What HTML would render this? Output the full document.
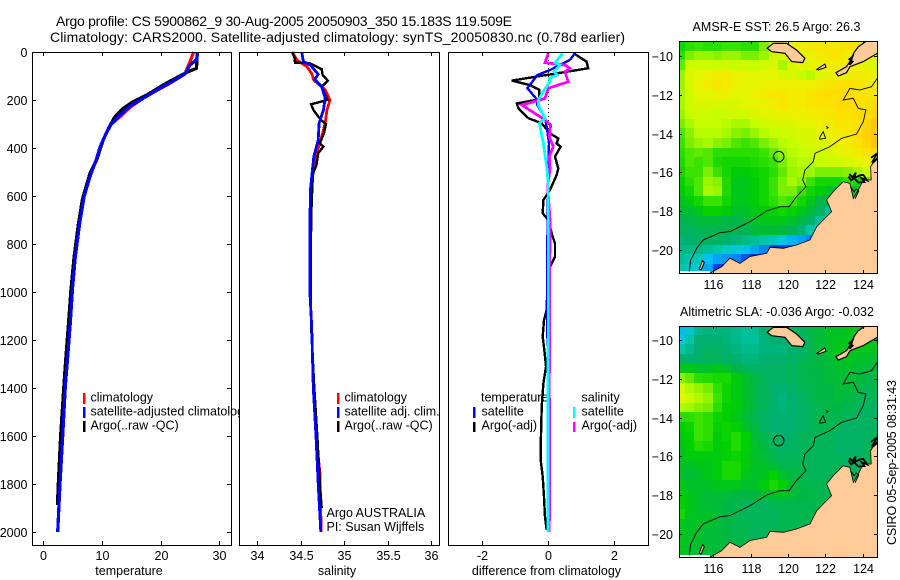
<!DOCTYPE html>
<html>
<head>
<meta charset="utf-8">
<title>Argo profile</title>
<style>
html,body{margin:0;padding:0;background:#fff;width:900px;height:580px;overflow:hidden}
svg{display:block}
text{font-family:"Liberation Sans",sans-serif;font-size:12.5px;fill:#000}
.ttl{font-size:14px}
.line{fill:none;shape-rendering:crispEdges;stroke-linejoin:miter}
.crisp{shape-rendering:crispEdges}
</style>
</head>
<body>
<svg id="chart" xmlns="http://www.w3.org/2000/svg" width="900" height="580" viewBox="0 0 900 580">
  <rect x="0" y="0" width="900" height="580" fill="#fff"/>
  <text class="ttl" x="56" y="26" textLength="456">Argo profile: CS 5900862_9 30-Aug-2005 20050903_350 15.183S 119.509E</text>
  <text class="ttl" x="50" y="42" textLength="575">Climatology: CARS2000. Satellite-adjusted climatology: synTS_20050830.nc (0.78d earlier)</text>
  <g id="panels"></g>
  <g id="maps"></g>
  <text x="692.5" y="31" textLength="168">AMSR-E SST: 26.5 Argo: 26.3</text>
  <text x="680" y="316" textLength="194">Altimetric SLA: -0.036 Argo: -0.032</text>
  <text transform="translate(896,545) rotate(-90)" textLength="165">CSIRO 05-Sep-2005 08:31:43</text>
</svg>
<script>
// ---- depth axis and tick labels ----
const depthTicks = [0,200,400,600,800,1000,1200,1400,1600,1800,2000];
const tempTicks = [0,10,20,30];
const salTicks = [34,34.5,35,35.5,36];
const diffTicks = [-2,0,2];
const lonTicks = [116,118,120,122,124];
const latTicks = [-10,-12,-14,-16,-18,-20];

// ---- temperature profiles ----
const tempClimDepth = [0,40,92,130,161,193,230,269,300,339,394,450,519,603,713,853,992,1130,1270,1395,1600,1800,2000];
const tempClimValue = [25.6,25,24.1,21.6,19.3,17,14.8,13.1,11.6,10.7,9.7,9,7.95,6.95,6.2,5.45,4.95,4.6,4.15,3.75,3.3,2.85,2.45];
const tempSatDepth = [0,33,54,92,124,151,193,225,262,300,339,394,450,519,603,713,853,992,1130,1270,1395,1600,1800,2000];
const tempSatValue = [26.3,26.1,25,24.1,21.9,19.9,17,14.8,13.1,11.6,10.7,9.7,9,7.95,6.95,6.2,5.45,4.95,4.6,4.15,3.75,3.3,2.85,2.45];
const tempArgoDepth = [0,68,85,117,137,179,211,235,269,318,367,450,505,610,713,853,992,1130,1270,1395,1600,1800,1888];
const tempArgoValue = [26.25,26.1,24.4,21.9,20.45,17.6,15.05,13.6,12.2,11.1,10.2,9.1,7.95,6.7,6,5.25,4.7,4.3,3.85,3.5,2.95,2.55,2.4];

// ---- salinity profiles ----
const salClimDepth = [0,35,61,89,117,158,200,242,297,367,422,505,644,800,1000,1145,1242,1400,1600,1750,2000];
const salClimValue = [34.4,34.46,34.57,34.625,34.65,34.78,34.835,34.8,34.78,34.73,34.68,34.64,34.61,34.606,34.605,34.625,34.632,34.644,34.675,34.72,34.735];
const salSatDepth = [0,40,54,93,114,144,193,242,297,367,436,505,575,700,1000,1145,1242,1400,1600,1800,2000];
const salSatValue = [34.51,34.53,34.61,34.7,34.66,34.74,34.78,34.76,34.71,34.7,34.65,34.63,34.61,34.606,34.605,34.625,34.632,34.644,34.675,34.7,34.73];
const salArgoDepth = [0,26,44,47,72,96,119,144,186,200,218,244,283,300,339,381,394,422,471,506,617,800,1000,1150,1400,1600,1800,1900];
const salArgoValue = [34.4,34.43,34.433,34.606,34.74,34.75,34.81,34.74,34.79,34.805,34.617,34.65,34.73,34.79,34.766,34.72,34.76,34.7,34.68,34.64,34.625,34.615,34.615,34.62,34.655,34.69,34.72,34.74];

// ---- differences from climatology ----
const diffTempArgoDepth = [6,40,68,119,138,158,197,214,235,276,297,339,360,381,394,436,485,513,575,617,672,700,756,797,853,894,978,1075,1117,1186,1256,1311,1381,1478,1644,1700,1769,1853,1936,1992];
const diffTempArgoValue = [0.78,1.16,1.21,-1.09,-0.54,-0.26,-0.26,-0.94,-0.89,-0.59,-0.19,0.06,0.31,0.26,0.38,0.21,0.31,0.26,0.06,-0.14,-0.16,0.01,0.11,0.21,0.21,0.06,-0.02,-0.04,-0.12,-0.16,-0.1,-0.06,-0.14,-0.19,-0.22,-0.22,-0.16,-0.12,-0.09,-0.04];
const diffTempSatDepth = [6,33,75,96,151,200,221,276,311,381,506,900,1100,1300,1600,2000];
const diffTempSatValue = [0.81,0.66,0.06,-0.32,-0.62,-0.32,-0.32,-0.09,-0.04,0.03,0.01,-0.03,-0.03,0,0.03,0.03];
const diffSalArgoDepth = [6,44,54,68,82,124,151,193,203,221,283,304,353,394,436,485,561,700,1400,1700,2000];
const diffSalArgoValue = [0.01,-0.09,0.51,0.66,0.51,0.61,0.01,-0.09,-0.32,-0.79,-0.09,0.08,0.04,0.16,0.04,0.06,-0.01,0.06,0.04,0.05,0.04];
const diffSalSatDepth = [6,44,54,82,96,110,124,158,200,221,276,297,381,478,547,2000];
const diffSalSatValue = [0.44,0.21,0.36,0.18,0.28,0.04,0.06,-0.11,-0.29,-0.29,-0.09,-0.26,-0.14,-0.04,0.01,0];

// ---- map grids: 22 columns (114.25E..124.75E), 24 rows (9.5S..21S), half degree cells ----
const sstRows = [
[25.0,25.2,25.3,25.2,25.2,25.3,25.3,25.2,25.2,25.6,26.2,26.4,26.5,26.5,26.6,26.7,26.7,26.7,26.8,26.7,26.6,26.5],
[25.2,25.6,25.8,25.8,25.7,25.8,25.8,25.6,25.6,25.8,26.2,26.3,26.4,26.4,26.5,26.6,26.7,26.7,26.6,26.5,26.4,26.3],
[25.5,26.2,26.2,26.2,26.2,26.2,26.1,26.2,26.1,26.2,26.3,25.9,26.3,26.4,26.4,26.5,26.6,26.6,26.6,26.5,26.4,26.3],
[25.8,26.3,26.4,26.5,26.6,26.6,26.5,26.4,26.4,26.4,26.4,26.3,26.3,26.1,26.0,26.3,26.5,26.5,26.5,26.6,26.6,26.5],
[25.8,26.3,26.5,26.6,26.7,26.6,26.5,26.4,26.4,26.5,26.5,26.5,26.5,26.5,26.5,26.6,26.7,26.8,26.8,26.7,26.7,26.6],
[25.9,26.2,26.4,26.4,26.5,26.5,26.4,26.4,26.5,26.6,26.7,26.7,26.6,26.6,26.7,26.8,26.9,26.9,26.9,26.8,26.7,26.7],
[25.9,26.2,26.3,26.3,26.3,26.3,26.3,26.4,26.4,26.5,26.6,26.7,26.6,26.6,26.7,26.8,26.8,26.9,26.9,26.9,26.8,26.9],
[25.8,26.1,26.2,26.2,26.1,26.2,26.2,26.2,26.3,26.4,26.4,26.5,26.5,26.5,26.6,26.6,26.7,26.8,26.8,26.9,26.9,27.0],
[25.6,25.9,26.1,26.1,26.1,26.0,25.9,25.9,26.1,26.2,26.3,26.3,26.3,26.4,26.4,26.5,26.6,26.7,26.7,26.8,27.0,27.2],
[25.4,25.7,26.0,26.0,26.0,25.9,25.7,25.6,25.8,26.0,26.1,26.2,26.2,26.3,26.3,26.4,26.5,26.6,26.7,26.9,27.1,27.2],
[25.3,25.6,25.8,25.9,25.7,25.6,25.4,25.3,25.4,25.6,25.8,26.0,26.1,26.2,26.3,26.3,26.4,26.5,26.6,26.8,27.0,27.2],
[25.2,25.4,25.5,25.4,25.2,25.2,25.2,25.2,25.2,25.3,25.5,25.8,26.0,26.1,26.2,26.2,26.3,26.4,26.5,26.6,26.8,26.9],
[25.1,25.4,25.3,25.4,25.1,25.0,25.0,25.0,25.1,25.2,25.3,25.6,25.9,26.0,26.0,26.1,26.2,26.2,26.3,26.4,26.5,26.5],
[25.0,25.3,25.3,25.6,25.3,25.0,24.8,24.8,24.9,25.0,25.2,25.5,25.8,25.9,25.8,25.6,25.6,25.6,25.7,25.9,26.2,26.4],
[24.9,25.2,25.4,25.8,25.7,25.1,24.7,24.7,24.8,25.0,25.3,25.6,25.9,25.7,25.3,25.0,25.0,25.0,25.2,25.0,25.5,25.4],
[24.8,25.0,25.4,25.9,25.8,25.1,24.7,24.7,24.8,25.0,25.3,25.6,25.6,25.3,25.0,24.8,24.6,24.4,24.4,24.6,25.0,25.0],
[24.6,24.8,25.0,25.3,25.3,25.0,24.7,24.7,24.8,25.0,25.2,25.4,25.3,25.0,24.7,24.4,24.2,24.2,24.2,24.2,24.2,24.2],
[24.5,24.5,24.7,24.9,24.9,24.8,24.6,24.6,24.7,24.8,24.9,25.0,24.9,24.7,24.5,24.2,23.8,23.6,23.6,23.6,23.6,23.6],
[24.3,24.4,24.5,24.5,24.5,24.4,24.4,24.5,24.6,24.7,24.7,24.7,24.6,24.4,24.1,23.8,23.5,23.4,23.4,23.4,23.4,23.4],
[24.2,24.2,24.3,24.3,24.3,24.3,24.3,24.3,24.5,24.5,24.5,24.4,24.3,24.0,23.7,23.3,23.0,23.0,23.0,23.0,23.0,23.0],
[24.0,24.1,24.1,24.2,24.2,24.1,24.0,23.9,23.8,23.7,23.6,23.4,23.1,23.0,22.8,22.7,22.7,22.7,22.7,22.7,22.7,22.7],
[23.9,23.9,23.9,23.8,23.7,23.5,23.4,23.2,23.0,22.8,22.5,22.5,22.5,22.5,22.5,22.5,22.5,22.5,22.5,22.5,22.5,22.5],
[23.8,23.7,23.6,23.2,23.0,22.9,22.8,22.6,22.4,22.3,22.3,22.3,22.3,22.3,22.3,22.3,22.3,22.3,22.3,22.3,22.3,22.3],
[23.7,23.5,23.4,23.0,22.5,22.3,22.3,22.3,22.3,22.3,22.3,22.3,22.3,22.3,22.3,22.3,22.3,22.3,22.3,22.3,22.3,22.3]
];
const slaRows = [
[-0.14,-0.10,-0.06,-0.05,-0.05,-0.05,-0.06,-0.07,-0.07,-0.04,-0.03,-0.03,-0.02,-0.02,0,0.01,0.02,0.02,0.03,0.03,0.03,0.03],
[-0.12,-0.08,-0.04,-0.04,-0.04,-0.05,-0.06,-0.07,-0.07,-0.05,-0.04,-0.04,-0.04,-0.03,-0.01,0.01,0.02,0.03,0.03,0.03,0.03,0.03],
[-0.08,-0.06,-0.04,-0.03,-0.03,-0.04,-0.05,-0.06,-0.06,-0.05,-0.05,-0.05,-0.04,-0.03,-0.01,0.01,0.02,0.03,0.03,0.03,0.03,0.02],
[-0.04,-0.04,-0.03,-0.02,-0.02,-0.03,-0.04,-0.05,-0.05,-0.04,-0.04,-0.04,-0.03,-0.02,-0.01,0,0.01,0.02,0.03,0.02,0.02,0.01],
[0.03,0.03,0.02,0.02,0.03,0.02,0,-0.02,-0.03,-0.03,-0.03,-0.03,-0.02,-0.01,0,0,0.01,0.02,0.02,0.01,0.01,0],
[0.14,0.12,0.09,0.08,0.07,0.07,0.04,0.02,0,-0.02,-0.03,-0.03,-0.02,-0.01,0,0,0.01,0.01,0.01,0.01,0,-0.01],
[0.20,0.17,0.15,0.13,0.09,0.06,0.04,0.02,0,-0.02,-0.04,-0.04,-0.03,-0.02,-0.01,0,0,0.01,0.01,0,-0.01,-0.01],
[0.22,0.19,0.17,0.15,0.10,0.06,0.04,0.02,0,-0.02,-0.04,-0.05,-0.04,-0.03,-0.01,0,0,0.01,0,-0.01,-0.02,-0.02],
[0.17,0.16,0.14,0.13,0.09,0.05,0.04,0.02,0,-0.02,-0.04,-0.05,-0.04,-0.03,-0.02,-0.01,0,0,-0.01,-0.02,-0.02,-0.03],
[0.09,0.09,0.10,0.09,0.06,0.05,0.03,0.01,-0.01,-0.03,-0.04,-0.04,-0.04,-0.03,-0.02,-0.01,-0.01,-0.01,-0.02,-0.03,-0.03,-0.03],
[0.05,0.06,0.10,0.09,0.05,0.06,0.05,0.02,0,-0.03,-0.04,-0.04,-0.04,-0.03,-0.02,-0.01,-0.01,-0.02,-0.03,-0.03,-0.03,-0.03],
[0.04,0.05,0.10,0.09,0.04,0.06,0.08,0.05,0.01,-0.01,-0.03,-0.04,-0.03,-0.02,-0.02,-0.02,-0.02,-0.03,-0.03,-0.03,-0.03,-0.02],
[0.03,0.05,0.08,0.07,0.04,0.05,0.08,0.05,0.02,0,-0.02,-0.03,-0.03,-0.02,-0.02,-0.02,-0.02,-0.03,-0.03,-0.03,-0.02,-0.02],
[0.03,0.04,0.04,0.04,0.04,0.05,0.06,0.04,0.02,0.01,-0.01,-0.02,-0.02,-0.02,-0.02,-0.02,-0.02,-0.02,-0.03,-0.03,-0.02,-0.02],
[0.02,0.02,0.03,0.03,0.04,0.07,0.07,0.04,0.02,0.02,0.01,-0.01,-0.01,-0.01,-0.02,-0.02,-0.02,-0.02,-0.03,-0.03,-0.03,-0.03],
[0.02,0.01,0.02,0.03,0.04,0.07,0.07,0.03,0.02,0.03,0.05,0.02,0,-0.01,-0.02,-0.02,-0.02,-0.02,-0.02,-0.02,-0.02,-0.02],
[0.03,0.02,0.02,0.02,0.03,0.03,0.03,0.02,0.02,0.04,0.07,0.05,0.01,0,-0.01,-0.01,-0.02,-0.02,-0.02,-0.02,-0.02,-0.02],
[0.05,0.03,0.02,0.01,0.01,0.01,0,0,0,0.01,0.02,0.02,0.01,0,0,-0.01,-0.01,-0.01,-0.01,-0.01,-0.01,-0.01],
[0.05,0.03,0.02,0.01,0.01,0,-0.01,-0.02,-0.02,-0.02,-0.01,-0.01,-0.01,-0.01,-0.01,-0.01,-0.01,-0.01,-0.01,-0.01,-0.01,-0.01],
[0.07,0.03,0.02,0.02,0.01,0,-0.01,-0.02,-0.02,-0.02,-0.02,-0.01,-0.01,-0.01,-0.01,-0.01,-0.01,-0.01,-0.01,-0.01,-0.01,-0.01],
[0.03,0.02,0.02,0.02,0.01,0,-0.01,-0.01,-0.02,-0.02,-0.02,-0.01,-0.01,-0.01,-0.01,-0.01,-0.01,-0.01,-0.01,-0.01,-0.01,-0.01],
[0.03,0.02,0.02,0.01,0.01,0,-0.01,-0.01,-0.02,-0.02,-0.02,-0.01,-0.01,-0.01,-0.01,-0.01,-0.01,-0.01,-0.01,-0.01,-0.01,-0.01],
[0.03,0.02,0.02,0.01,0.01,0,0,-0.01,-0.01,-0.02,-0.02,-0.01,-0.01,-0.01,-0.01,-0.01,-0.01,-0.01,-0.01,-0.01,-0.01,-0.01],
[0.03,0.02,0.01,0.01,0.01,0,0,0,-0.01,-0.01,-0.01,-0.01,-0.01,-0.01,-0.01,-0.01,-0.01,-0.01,-0.01,-0.01,-0.01,-0.01]
];
const gridLons = [114.25,114.75,115.25,115.75,116.25,116.75,117.25,117.75,118.25,118.75,119.25,119.75,120.25,120.75,121.25,121.75,122.25,122.75,123.25,123.75,124.25,124.75];
const gridLats = [-9.5,-10,-10.5,-11,-11.5,-12,-12.5,-13,-13.5,-14,-14.5,-15,-15.5,-16,-16.5,-17,-17.5,-18,-18.5,-19,-19.5,-20,-20.5,-21];

// ---- geography, as lon/lat ----
const stationLon = 119.509;
const stationLat = -15.183;
const mainlandLon = [115.82,116.45,116.89,117.43,117.96,118.86,119.04,119.75,120.46,121.18,121.54,122.07,122.34,122.07,122.43,122.96,123.32,123.5,123.77,124.04,124.46,124.43,124.61,124.8,125,125,115.82];
const mainlandLat = [-21.2,-20.86,-20.43,-20.69,-20.34,-20.17,-19.86,-19.91,-19.74,-19.48,-18.8,-18.28,-18.02,-17.42,-16.99,-16.48,-16.56,-17.34,-16.91,-16.39,-16.39,-15.7,-15.45,-15.19,-15.19,-21.5,-21.5];
const sumbaLon = [118.89,119.21,119.93,120.46,120.91,120.79,120.2,119.84,119.13];
const sumbaLat = [-9.6,-9.35,-9.35,-9.69,-10.12,-10.34,-10.29,-9.86,-9.78];
const timorLon = [123.54,123.77,124.21,125,125,124.79,124.04,123.32,123.14,122.7,122.57,123.14,123.32];
const timorLat = [-9.83,-9.52,-9.23,-9.1,-9.8,-9.86,-10.29,-10.55,-10.86,-11.03,-10.86,-10.55,-10.29];
const savuLon = [121.54,121.98,122.04,121.63];
const savuLat = [-10.69,-10.41,-10.58,-10.72];
const isletLon = [115.25,115.42,115.52,115.35];
const isletLat = [-20.98,-20.55,-20.65,-21.02];
const shelfLon = [114.71,114.79,115.11,115.46,116.36,116.89,117.96,118.86,119.57,120.07,120.46,120.96,120.79,120.91,121.36,121.45,122.25,122.88,123.68,124.04,124.18,123.77,123.5,122.96,123.32,123.86,124.48,124.79];
const shelfLat = [-21.12,-20.52,-19.91,-19.48,-19.11,-19.05,-18.54,-17.99,-17.77,-17.77,-17.25,-16.74,-16.39,-15.88,-15.45,-15.02,-14.67,-14.24,-14.02,-13.38,-12.78,-12.7,-12.18,-12.27,-11.67,-11.75,-11.58,-11.15];
const reefLon = [121.71,121.89,122.02,121.71];
const reefLat = [-14.19,-13.9,-14.24,-14.29];
const reefSmallLon = [122.04,122.16,122.07];
const reefSmallLat = [-13.64,-13.68,-13.76];
const kingSoundLon = [123.29,123.45,123.64,123.55,123.85,124.04,124.25,123.95,124.1,123.77,123.55,123.38,123.25];
const kingSoundLat = [-16.08,-16.25,-16.01,-16.3,-16.15,-16.13,-16.42,-16.3,-16.5,-16.52,-16.3,-16.42,-16.21];
const sound2Lon = [123.35,123.55,123.65,123.8,123.6];
const sound2Lat = [-16.75,-17.0,-16.85,-16.95,-17.35];
const capeLon = [124.45,124.8,124.55,124.8,124.5];
const capeLat = [-15.25,-15.0,-15.4,-15.3,-15.55];
const timorReefLon = [123.25,123.45,123.3,123.5];
const timorReefLat = [-10.2,-10.05,-10.45,-10.25];

const NS = 'http://www.w3.org/2000/svg';
const panels = document.getElementById('panels');
const maps = document.getElementById('maps');

function make(parent, tag, name) {
  const el = document.createElementNS(NS, tag);
  
  
  parent.appendChild(el);
  return el;
}
function setA(el, obj) { for (const k in obj) el.setAttribute(k, obj[k]); return el; }
function tick(parent, x1, y1, x2, y2, name) {
  setA(make(parent, 'line', name), {x1:x1, y1:y1, x2:x2, y2:y2, stroke:'#000', 'stroke-width':1, class:'crisp'});
}
function label(parent, x, y, str, anchor, name) {
  const t = make(parent, 'text', name);
  setA(t, {x:x, y:y, 'text-anchor':anchor});
  t.textContent = str;
  return t;
}

// axis functions
const yDepth = d => 52 + d * 0.24;
const xTemp = t => 43.3 + t * 5.87;
const xSal = s => 257.3 + (s - 34) * 87;
const xDiff = v => 548 + v * 33.2;

function frame(parent, L, R, T, B, name) {
  setA(make(parent, 'rect', name), {x:L+0.5, y:T+0.5, width:R-L, height:B-T, fill:'none', stroke:'#000', 'stroke-width':1, class:'crisp'});
}
function drawProfile(parent, xFn, depths, values, color, width, name) {
  const pl = make(parent, 'polyline', name);
  const pts = depths.map((d, i) => xFn(values[i]).toFixed(1) + ',' + yDepth(d).toFixed(1));
  setA(pl, {points:pts.join(' '), stroke:color, 'stroke-width':width, class:'line'});
}
function xAxis(parent, ticks, xFn, L, R, T, B, fmt) {
  ticks.forEach(v => {
    const x = Math.round(xFn(v)) + 0.5;
    tick(parent, x, T, x, T + 4, 'x-tick-top');
    tick(parent, x, B, x, B - 4, 'x-tick-bottom');
    label(parent, x, 560, fmt(v), 'middle', 'x-tick-label');
  });
}
function legendBar(parent, x, y1, y2, color, name) {
  setA(make(parent, 'rect', name), {x:x, y:y1, width:2.5, height:y2-y1, fill:color, class:'crisp'});
}

// ---- panel 1: temperature ----
const p1 = make(panels, 'g', 'temperature-panel');
setA(make(p1, 'rect', 'temperature-plot-area'), {x:32, y:52, width:199, height:493, fill:'#fff'});
depthTicks.forEach(d => {
  const y = Math.round(yDepth(d)) + 0.5;
  tick(p1, 32, y, 36, y, 'y-tick-left');
  tick(p1, 231, y, 227, y, 'y-tick-right');
  label(p1, 27.5, y + 4.5, String(d), 'end', 'y-tick-label');
});
xAxis(p1, tempTicks, xTemp, 32, 231, 52, 545, String);
drawProfile(p1, xTemp, tempClimDepth, tempClimValue, '#f00', 3.2, 'temperature-climatology-line');
drawProfile(p1, xTemp, tempArgoDepth, tempArgoValue, '#000', 3.2, 'temperature-argo-line');
drawProfile(p1, xTemp, tempSatDepth, tempSatValue, '#00f', 3.2, 'temperature-satellite-line');
frame(p1, 32, 231, 52, 545, 'temperature-frame');
legendBar(p1, 83, 393, 404, '#f00', 'legend-swatch-climatology');
legendBar(p1, 83, 407, 418, '#00f', 'legend-swatch-satellite');
legendBar(p1, 83, 421, 432, '#000', 'legend-swatch-argo');
label(p1, 90.5, 401.5, 'climatology', 'start', 'legend-label-climatology');
label(p1, 90.5, 415.5, 'satellite-adjusted climatology', 'start', 'legend-label-satellite');
label(p1, 90.5, 429.5, 'Argo(..raw -QC)', 'start', 'legend-label-argo');
label(p1, 129, 575, 'temperature', 'middle', 'x-axis-title-temperature');

// ---- panel 2: salinity ----
const p2 = make(panels, 'g', 'salinity-panel');
setA(make(p2, 'rect', 'salinity-plot-area'), {x:240, y:52, width:199, height:493, fill:'#fff'});
xAxis(p2, salTicks, xSal, 240, 439, 52, 545, String);
drawProfile(p2, xSal, salClimDepth, salClimValue, '#f00', 2.8, 'salinity-climatology-line');
drawProfile(p2, xSal, salArgoDepth, salArgoValue, '#000', 2.4, 'salinity-argo-line');
drawProfile(p2, xSal, salSatDepth, salSatValue, '#00f', 2.8, 'salinity-satellite-line');
frame(p2, 239, 439, 52, 545, 'salinity-frame');
legendBar(p2, 337, 393, 404, '#f00', 'legend-swatch-climatology');
legendBar(p2, 337, 407, 418, '#00f', 'legend-swatch-satellite');
legendBar(p2, 337, 421, 432, '#000', 'legend-swatch-argo');
label(p2, 344.5, 401.5, 'climatology', 'start', 'legend-label-climatology');
label(p2, 344.5, 415.5, 'satellite adj. clim.', 'start', 'legend-label-satellite');
label(p2, 344.5, 429.5, 'Argo(..raw -QC)', 'start', 'legend-label-argo');
label(p2, 326.5, 517, 'Argo AUSTRALIA', 'start', 'program-label');
label(p2, 326.5, 531, 'PI: Susan Wijffels', 'start', 'pi-label');
label(p2, 337, 575, 'salinity', 'middle', 'x-axis-title-salinity');

// ---- panel 3: differences ----
const p3 = make(panels, 'g', 'difference-panel');
setA(make(p3, 'rect', 'difference-plot-area'), {x:449, y:52, width:199, height:493, fill:'#fff'});
xAxis(p3, diffTicks, xDiff, 449, 648, 52, 545, String);
label(p3, 481, 401.5, 'temperature', 'start', 'legend-heading-temperature');
label(p3, 481.5, 415.5, 'satellite', 'start', 'legend-label-temp-satellite');
label(p3, 481.5, 429.5, 'Argo(-adj)', 'start', 'legend-label-temp-argo');
label(p3, 581.5, 401.5, 'salinity', 'start', 'legend-heading-salinity');
label(p3, 581.5, 415.5, 'satellite', 'start', 'legend-label-sal-satellite');
label(p3, 581.5, 429.5, 'Argo(-adj)', 'start', 'legend-label-sal-argo');
legendBar(p3, 473, 407, 418, '#00f', 'legend-swatch-temp-satellite');
legendBar(p3, 473, 422, 432, '#000', 'legend-swatch-temp-argo');
legendBar(p3, 573, 407, 418, '#0ff', 'legend-swatch-sal-satellite');
legendBar(p3, 573, 422, 432, '#f0f', 'legend-swatch-sal-argo');
setA(make(p3, 'line', 'zero-reference-line'), {x1:548.5, y1:yDepth(0), x2:548.5, y2:yDepth(2000), stroke:'#000', 'stroke-width':1, 'stroke-dasharray':'1 3', class:'crisp'});
drawProfile(p3, xDiff, diffTempArgoDepth, diffTempArgoValue, '#000', 2.4, 'diff-temperature-argo-line');
drawProfile(p3, xDiff, diffTempSatDepth, diffTempSatValue, '#00f', 2.4, 'diff-temperature-satellite-line');
drawProfile(p3, xDiff, diffSalArgoDepth, diffSalArgoValue, '#f0f', 2.8, 'diff-salinity-argo-line');
drawProfile(p3, xDiff, diffSalSatDepth, diffSalSatValue, '#0ff', 2.8, 'diff-salinity-satellite-line');
frame(p3, 448, 648, 52, 545, 'difference-frame');
label(p3, 546.5, 575, 'difference from climatology', 'middle', 'x-axis-title-difference');

// ---- maps ----
const stops = [
  [0.00,[0,16,160]],[0.11,[0,48,224]],[0.185,[0,144,255]],[0.26,[0,200,240]],
  [0.333,[0,200,176]],[0.407,[0,176,112]],[0.48,[0,184,64]],[0.556,[0,208,0]],
  [0.63,[48,224,0]],[0.70,[128,240,0]],[0.78,[192,255,0]],[0.85,[232,244,0]],
  [0.926,[255,224,0]],[1.00,[255,200,0]]
];
function colour(t) {
  t = Math.max(0, Math.min(1, t));
  for (let i = 1; i < stops.length; i++) {
    if (t <= stops[i][0]) {
      const a = stops[i-1], b = stops[i], f = (t - a[0]) / (b[0] - a[0]);
      const c = a[1].map((v, k) => Math.round(v + (b[1][k] - v) * f));
      return 'rgb(' + c.join(',') + ')';
    }
  }
  return 'rgb(255,200,0)';
}

function drawMap(idx, top, bottom, lat10, rows, tFn, name) {
  const L = 679, R = 877, B = bottom;
  const xLon = lon => 713.3 + (lon - 116) * 18.66;
  const yLat = lat => lat10 + (-10 - lat) * 19.4;
  const g = make(maps, 'g', name);
  const clipId = 'map-clip-' + idx;
  const defs = make(g, 'defs', name + '-defs');
  const cp = make(defs, 'clipPath', name + '-clip');
  cp.setAttribute('id', clipId);
  setA(make(cp, 'rect', name + '-clip-rect'), {x:L, y:top, width:R-L, height:B-top});
  const inner = make(g, 'g', name + '-content');
  inner.setAttribute('clip-path', 'url(#' + clipId + ')');
  rows.forEach((row, j) => {
    row.forEach((v, i) => {
      const r = document.createElementNS(NS, 'rect');
      
      
      const x0 = Math.floor(xLon(gridLons[i] - 0.25)), x1 = Math.ceil(xLon(gridLons[i] + 0.25));
      const y0 = Math.floor(yLat(gridLats[j] + 0.25)), y1 = Math.ceil(yLat(gridLats[j] - 0.25));
      setA(r, {x:x0, y:y0, width:x1-x0, height:y1-y0, fill:colour(tFn(v)), class:'crisp'});
      inner.appendChild(r);
    });
  });
  setA(make(inner, 'rect', 'no-data-strip'), {x:L, y:B-2, width:31, height:3, fill:'#fff', class:'crisp'});
  const poly = (lons, lats) => lons.map((lo, i) => xLon(lo).toFixed(1) + ',' + yLat(lats[i]).toFixed(1)).join(' ');
  const land = (lons, lats, n, w) => setA(make(inner, 'polygon', n), {points:poly(lons, lats), fill:'#ffcc99', stroke:'#000', 'stroke-width':w});
  const outline = (lons, lats, n, w) => setA(make(inner, 'polyline', n), {points:poly(lons, lats), fill:'none', stroke:'#000', 'stroke-width':w});
  land(mainlandLon, mainlandLat, 'mainland', 0.8);
  land(sumbaLon, sumbaLat, 'sumba-island', 1.2);
  land(timorLon, timorLat, 'timor-island', 1.2);
  land(savuLon, savuLat, 'savu-island', 1);
  land(isletLon, isletLat, 'dampier-islet', 1);
  outline(shelfLon, shelfLat, 'shelf-contour', 0.9);
  outline(reefLon.concat(reefLon[0]), reefLat.concat(reefLat[0]), 'scott-reef', 0.9);
  outline(reefSmallLon, reefSmallLat, 'small-reef', 0.9);
  outline(kingSoundLon, kingSoundLat, 'king-sound-islands', 1.8);
  outline(sound2Lon, sound2Lat, 'sound-islands', 1);
  outline(capeLon, capeLat, 'cape-islands', 1.6);
  outline(timorReefLon, timorReefLat, 'timor-reef', 2);
  setA(make(inner, 'circle', 'argo-station-marker'), {cx:xLon(stationLon), cy:yLat(stationLat), r:5.2, fill:'none', stroke:'#000', 'stroke-width':1});
  frame(g, L, R, top, B, name + '-frame');
  lonTicks.forEach(v => {
    const x = Math.round(xLon(v)) + 0.5;
    tick(g, x, top, x, top + 3, 'lon-tick-top');
    tick(g, x, B, x, B - 3, 'lon-tick-bottom');
    label(g, x, B + 16, String(v), 'middle', 'lon-tick-label');
  });
  latTicks.forEach(v => {
    const y = Math.round(yLat(v)) + 0.5;
    tick(g, L, y, L + 3, y, 'lat-tick-left');
    tick(g, R, y, R - 3, y, 'lat-tick-right');
    label(g, 673, y + 4.5, '\u2212' + Math.abs(v), 'end', 'lat-tick-label');
  });
}
drawMap(0, 41, 273, 56, sstRows, v => (v - 21.85) / 5.4, 'sst-map');
drawMap(1, 326, 557, 340, slaRows, v => (v + 0.285) / 0.6, 'sla-map');
</script>
</body>
</html>
